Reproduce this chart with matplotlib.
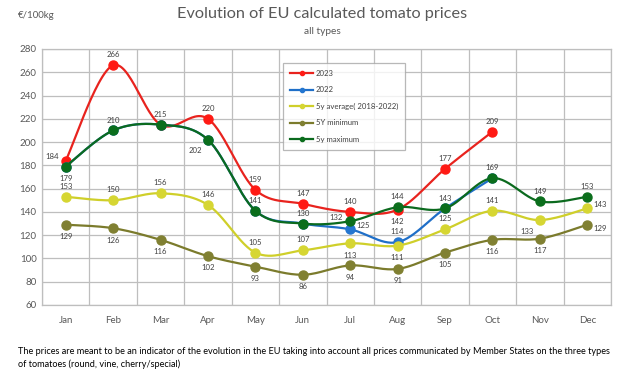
import numpy as np
import matplotlib
matplotlib.use("Agg")
import matplotlib.pyplot as plt
from matplotlib.lines import Line2D

plt.rcParams['font.family'] = ['Lato', 'DejaVu Sans']

months = ['Jan', 'Feb', 'Mar', 'Apr', 'May', 'Jun', 'Jul', 'Aug', 'Sep', 'Oct', 'Nov', 'Dec']
y2023 = [184, 266, 215, 220, 159, 147, 140, 142, 177, 209]
y2022 = [179, 210, 215, 202, 141, 130, 125, 114, 143, 169]
y_avg = [153, 150, 156, 146, 105, 107, 113, 111, 125, 141, 133, 143]
y_min = [129, 126, 116, 102, 93, 86, 94, 91, 105, 116, 117, 129]
y_max = [179, 210, 215, 202, 141, 130, 132, 144, 143, 169, 149, 153]
yticks = list(range(60, 281, 20))

# label placement codes (style only)
pos2023 = ['l', 'a', None, 'a', 'a', 'a', 'a', 'b', 'a', 'a']
pos2022 = [None, None, None, None, None, None, 'r', 'a', None, None]
posavg = ['a', 'a', 'a', 'a', 'a', 'a', 'b', 'b', 'a', 'a', 'bl', 'r']
posmin = ['b', 'b', 'b', 'b', 'b', 'b', 'b', 'b', 'b', 'b', 'b', 'br']
posmax = ['b', 'a', 'a', 'bl', 'a', 'a', 'l', 'a', 'a', 'a', 'a', 'a']

offsets = {'a': (0, 7.5), 'b': (0, -8.5), 'l': (-10, 3), 'r': (9, 3),
           'bl': (-9, -8), 'br': (9, -3)}


def smooth(x, y, n=30):
    x = np.asarray(x, float)
    y = np.asarray(y, float)
    P = np.column_stack([x, y])
    out = [P[0]]
    m = len(P)
    for i in range(m - 1):
        p0 = P[i - 1] if i > 0 else P[i]
        p1 = P[i]
        p2 = P[i + 1]
        p3 = P[i + 2] if i + 2 < m else P[i + 1]
        c1 = p1 + (p2 - p0) / 6.0
        c2 = p2 - (p3 - p1) / 6.0
        t = np.linspace(0, 1, n)[1:, None]
        seg = ((1 - t) ** 3) * p1 + 3 * ((1 - t) ** 2) * t * c1 + 3 * (1 - t) * t ** 2 * c2 + t ** 3 * p2
        out.extend(seg)
    out = np.array(out)
    return out[:, 0], out[:, 1]


fig = plt.figure(figsize=(6.26, 3.80), dpi=100)
ax = fig.add_axes([42 / 626, 1 - 305 / 380, (611 - 42) / 626, (305 - 49) / 380])

series = [
    ('2023', y2023, '#E8231E', '#FF1A14', pos2023),
    ('2022', y2022, '#1F6FC8', '#2476D0', pos2022),
    ('5y average( 2018-2022)', y_avg, '#CFCF2A', '#D6D632', posavg),
    ('5Y minimum', y_min, '#7B7B2C', '#808032', posmin),
    ('5y maximum', y_max, '#0B6A1E', '#0B6E1C', posmax),
]

handles = []
for z, (name, vals, lc, mc, pos) in enumerate(series):
    x = np.arange(1, len(vals) + 1)
    sx, sy = smooth(x, vals)
    ax.plot(sx, sy, color=lc, lw=1.6, zorder=3 + z, solid_capstyle='round')
    ax.plot(x, vals, ls='none', marker='o', ms=6.5, mfc=mc, mec=mc, zorder=3 + z)
    for xi, v, p in zip(x, vals, pos):
        if p is None:
            continue
        dx, dy = offsets[p]
        ax.annotate(str(v), (xi, v), xytext=(dx, dy), textcoords='offset points',
                    ha='center', va='center', fontsize=5.6, color='#404040', zorder=10)
    handles.append(Line2D([], [], color=lc, lw=1.6, marker='o', ms=3, mfc=mc, mec=mc, label=name))

ax.set_xlim(0.5, 12.5)
ax.set_ylim(60, 280)
ax.set_yticks(yticks)
ax.set_xticks(np.arange(1, 13))
ax.set_xticklabels(months)
ax.set_xticks(np.arange(0.5, 12.6, 1), minor=True)
ax.grid(axis='y', which='major', color='#BEBEBE', lw=0.9)
ax.grid(axis='x', which='minor', color='#BEBEBE', lw=0.9)
ax.grid(axis='x', which='major', visible=False)
ax.tick_params(axis='both', which='both', length=0, labelsize=7, labelcolor='#595959')
ax.tick_params(axis='x', pad=8)
ax.tick_params(axis='y', pad=4)
for s in ax.spines.values():
    s.set_color('#BEBEBE')
    s.set_linewidth(0.9)
ax.set_axisbelow(True)

leg = ax.legend(handles=handles, loc='upper left', bbox_to_anchor=(0.4236, 0.945),
                fontsize=5.6, frameon=True, fancybox=False, edgecolor='#A6A6A6',
                handlelength=3.0, handletextpad=0.3, labelspacing=1.2,
                borderpad=0.9, borderaxespad=0)
leg.get_frame().set_linewidth(0.9)
for t in leg.get_texts():
    t.set_color('#404040')
leg.set_zorder(20)

fig.text(322 / 626, 1 - 14 / 380, 'Evolution of EU calculated tomato prices', ha='center', va='center',
         fontsize=11.7, color='#595959')
fig.text(322 / 626, 1 - 31 / 380, 'all types', ha='center', va='center', fontsize=7.3, color='#595959')
fig.text(18 / 626, 1 - 16 / 380, '€/100kg', ha='left', va='center', fontsize=7, color='#595959')
fig.text(18 / 626, 1 - 351 / 380,
         'The prices are meant to be an indicator of the evolution in the EU taking into account all prices communicated by Member States on the three types',
         ha='left', va='center', fontsize=6.6, color='#000000')
fig.text(18 / 626, 1 - 364 / 380, 'of tomatoes (round, vine, cherry/special)',
         ha='left', va='center', fontsize=6.6, color='#000000')

fig.savefig('out.png', dpi=100)
